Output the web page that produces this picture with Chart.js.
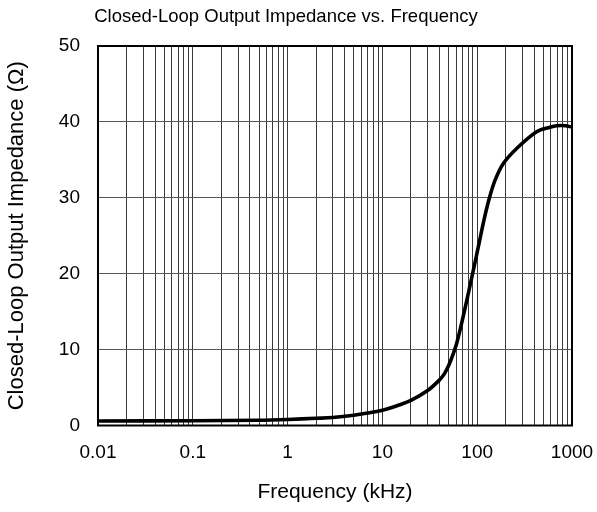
<!DOCTYPE html>
<html>
<head>
<meta charset="utf-8">
<script src="https://cdn.jsdelivr.net/npm/chart.js@4"></script>
<style>
html,body{margin:0;padding:0;background:#fff;}
#wrap{width:597px;height:512px;}
</style>
</head>
<body>
<div id="wrap"><canvas id="c" width="597" height="512"></canvas></div>
<script>
const chartTitle = "Closed-Loop Output Impedance vs. Frequency";
const xTitle = "Frequency (kHz)";
const yTitle = "Closed-Loop Output Impedance (Ω)";
const frequencyKHz = [0.01, 0.1, 0.5, 1, 2, 3, 5, 7, 10, 15, 20, 30, 40, 45, 50, 55, 61, 71, 88, 103, 118, 134, 154, 188, 261, 424, 586, 692, 850, 1000];
const impedanceOhm = [0.6, 0.62, 0.7, 0.8, 0.95, 1.05, 1.35, 1.65, 2.0, 2.7, 3.3, 4.6, 6.0, 6.8, 7.9, 9.2, 10.9, 14.3, 19.6, 23.6, 27.1, 29.9, 32.3, 34.5, 36.5, 38.7, 39.3, 39.5, 39.5, 39.3];
const xDecades = [0.01, 0.1, 1, 10, 100, 1000];
const xMultiples = [1, 2, 3, 4, 5, 6, 7, 8, 9];
const yTicks = [0, 10, 20, 30, 40, 50];

const FONT = "'Liberation Sans', Arial, sans-serif";

const borderPlugin = {
  id: 'plotBorder',
  afterDatasetsDraw(chart) {
    const a = chart.chartArea, ctx = chart.ctx;
    ctx.save();
    ctx.strokeStyle = '#000';
    ctx.lineWidth = 2;
    ctx.strokeRect(a.left, a.top, a.right - a.left, a.bottom - a.top);
    ctx.restore();
  }
};

new Chart(document.getElementById('c'), {
  type: 'line',
  data: {
    datasets: [{
      data: frequencyKHz.map((f, i) => ({x: f, y: impedanceOhm[i]})),
      borderColor: '#000',
      borderWidth: 3.6,
      pointRadius: 0,
      tension: 0.35,
      fill: false
    }]
  },
  options: {
    responsive: false,
    animation: false,
    devicePixelRatio: 1,
    layout: {padding: {left: 0, right: 25, top: 0, bottom: 0}},
    plugins: {
      legend: {display: false},
      tooltip: {enabled: false},
      title: {
        display: true,
        text: chartTitle,
        color: '#000',
        font: {family: FONT, size: 18.5, weight: 'normal'},
        padding: {top: 6, bottom: 17.8}
      }
    },
    scales: {
      x: {
        type: 'logarithmic',
        min: 0.01,
        max: 1000,
        afterBuildTicks(scale) {
          const t = [];
          for (let d = 0; d < xDecades.length - 1; d++) {
            for (const m of xMultiples) t.push({value: +(xDecades[d] * m).toPrecision(6)});
          }
          t.push({value: xDecades[xDecades.length - 1]});
          scale.ticks = t;
        },
        afterFit(scale) { scale.height = 86.5; scale.paddingLeft = 0; scale.paddingRight = 0; },
        ticks: {
          autoSkip: false,
          maxRotation: 0,
          color: '#000',
          font: {family: FONT, size: 19},
          padding: 16,
          callback(v) {
            return xDecades.some(d => Math.abs(d - v) / d < 1e-6) ? String(v) : '';
          }
        },
        grid: {color: '#3a3a3a', lineWidth: 1, drawTicks: false},
        border: {display: false},
        title: {display: true, text: xTitle, color: '#000', font: {family: FONT, size: 21}, padding: {top: 0, bottom: 7}}
      },
      y: {
        min: 0,
        max: 50,
        afterBuildTicks(scale) { scale.ticks = yTicks.map(v => ({value: v})); },
        afterFit(scale) { scale.width = 98; },
        ticks: {color: '#000', font: {family: FONT, size: 19}, padding: 18},
        grid: {color: '#555', lineWidth: 1, drawTicks: false},
        border: {display: false},
        title: {display: true, text: yTitle, color: '#000', font: {family: FONT, size: 22}, padding: {top: 4, bottom: 0}}
      }
    }
  },
  plugins: [borderPlugin]
});
</script>
</body>
</html>
